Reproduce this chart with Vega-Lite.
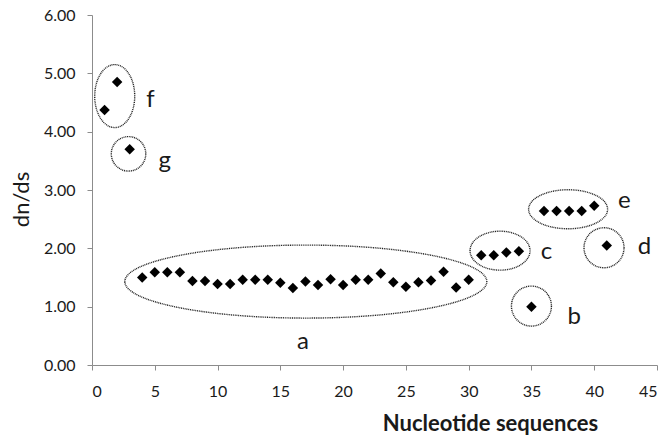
{
  "$schema": "https://vega.github.io/schema/vega-lite/v6.json",
  "autosize": {"type": "none"},
  "width": 565,
  "height": 350,
  "padding": {"left": 92, "top": 15, "right": 8, "bottom": 71},
  "background": "white",
  "config": {
    "view": {"stroke": null},
    "font": "Lato",
    "axis": {
      "grid": false,
      "domainColor": "#8c8c8c",
      "tickColor": "#8c8c8c",
      "tickSize": 5,
      "labelFont": "Lato",
      "labelFontSize": 16,
      "labelColor": "#1a1a1a",
      "titleFont": "Lato",
      "titleColor": "#1a1a1a"
    }
  },
  "datasets": {
    "points": [
      {"seq": 1, "dnds": 4.37}, {"seq": 2, "dnds": 4.85}, {"seq": 3, "dnds": 3.70},
      {"seq": 4, "dnds": 1.50}, {"seq": 5, "dnds": 1.59}, {"seq": 6, "dnds": 1.59},
      {"seq": 7, "dnds": 1.59}, {"seq": 8, "dnds": 1.44}, {"seq": 9, "dnds": 1.44},
      {"seq": 10, "dnds": 1.39}, {"seq": 11, "dnds": 1.39}, {"seq": 12, "dnds": 1.46},
      {"seq": 13, "dnds": 1.46}, {"seq": 14, "dnds": 1.46}, {"seq": 15, "dnds": 1.41},
      {"seq": 16, "dnds": 1.32}, {"seq": 17, "dnds": 1.43}, {"seq": 18, "dnds": 1.37},
      {"seq": 19, "dnds": 1.47}, {"seq": 20, "dnds": 1.37}, {"seq": 21, "dnds": 1.46},
      {"seq": 22, "dnds": 1.46}, {"seq": 23, "dnds": 1.57}, {"seq": 24, "dnds": 1.42},
      {"seq": 25, "dnds": 1.34}, {"seq": 26, "dnds": 1.42}, {"seq": 27, "dnds": 1.45},
      {"seq": 28, "dnds": 1.60}, {"seq": 29, "dnds": 1.33}, {"seq": 30, "dnds": 1.46},
      {"seq": 31, "dnds": 1.88}, {"seq": 32, "dnds": 1.88}, {"seq": 33, "dnds": 1.93},
      {"seq": 34, "dnds": 1.95}, {"seq": 35, "dnds": 1.00}, {"seq": 36, "dnds": 2.64},
      {"seq": 37, "dnds": 2.64}, {"seq": 38, "dnds": 2.64}, {"seq": 39, "dnds": 2.64},
      {"seq": 40, "dnds": 2.73}, {"seq": 41, "dnds": 2.05}
    ],
    "groups": [
      {"group": "a", "cx": 17.03, "cy": 1.43, "lx": 16.8, "ly": 0.40},
      {"group": "b", "cx": 35.0, "cy": 1.01, "lx": 38.4, "ly": 0.83},
      {"group": "c", "cx": 32.5, "cy": 1.96, "lx": 36.2, "ly": 1.93},
      {"group": "d", "cx": 40.78, "cy": 2.01, "lx": 44.0, "ly": 2.02},
      {"group": "e", "cx": 37.92, "cy": 2.67, "lx": 42.4, "ly": 2.81},
      {"group": "f", "cx": 1.81, "cy": 4.61, "lx": 4.65, "ly": 4.55},
      {"group": "g", "cx": 2.91, "cy": 3.62, "lx": 5.8, "ly": 3.49}
    ]
  },
  "layer": [
    {
      "data": {"name": "points"},
      "mark": {"type": "point", "shape": "diamond", "filled": true, "color": "black", "size": 110, "opacity": 1},
      "encoding": {
        "x": {
          "field": "seq", "type": "quantitative",
          "scale": {"domain": [0, 45], "nice": false},
          "axis": {
            "values": [0, 5, 10, 15, 20, 25, 30, 35, 40, 45],
            "labelPadding": 13,
            "title": "Nucleotide sequences",
            "titleFontSize": 22,
            "titleFontWeight": "bold",
            "titleX": 398,
            "titleY": 58,
            "titleAlign": "center",
            "titleBaseline": "middle"
          }
        },
        "y": {
          "field": "dnds", "type": "quantitative",
          "scale": {"domain": [0, 6], "nice": false},
          "axis": {
            "values": [0, 1, 2, 3, 4, 5, 6],
            "format": ".2f",
            "labelPadding": 12,
            "title": "dn/ds",
            "titleFontSize": 22,
            "titleFontWeight": "normal",
            "titleX": -71,
            "titleY": 184,
            "titleAlign": "center",
            "titleBaseline": "middle"
          }
        }
      }
    },
    {
      "data": {"name": "groups"},
      "transform": [{"filter": "datum.group === 'a'"}],
      "mark": {"type": "point", "shape": "M-1,0A1,0.2017,0,1,1,1,0A1,0.2017,0,1,1,-1,0Z", "size": 131044, "filled": false, "stroke": "#222222", "strokeWidth": 1.4, "strokeDash": [1, 0.8], "opacity": 1},
      "encoding": {"x": {"field": "cx", "type": "quantitative"}, "y": {"field": "cy", "type": "quantitative"}}
    },
    {
      "data": {"name": "groups"},
      "transform": [{"filter": "datum.group === 'c'"}],
      "mark": {"type": "point", "shape": "M-1,0A1,0.65,0,1,1,1,0A1,0.65,0,1,1,-1,0Z", "size": 3600, "filled": false, "stroke": "#222222", "strokeWidth": 1.4, "strokeDash": [1, 0.8], "opacity": 1},
      "encoding": {"x": {"field": "cx", "type": "quantitative"}, "y": {"field": "cy", "type": "quantitative"}}
    },
    {
      "data": {"name": "groups"},
      "transform": [{"filter": "datum.group === 'e'"}],
      "mark": {"type": "point", "shape": "M-1,0A1,0.494,0,1,1,1,0A1,0.494,0,1,1,-1,0Z", "size": 6241, "filled": false, "stroke": "#222222", "strokeWidth": 1.4, "strokeDash": [1, 0.8], "opacity": 1},
      "encoding": {"x": {"field": "cx", "type": "quantitative"}, "y": {"field": "cy", "type": "quantitative"}}
    },
    {
      "data": {"name": "groups"},
      "transform": [{"filter": "datum.group === 'f'"}],
      "mark": {"type": "point", "shape": "M0,-1A0.635,1,0,1,1,0,1A0.635,1,0,1,1,0,-1Z", "size": 3969, "filled": false, "stroke": "#222222", "strokeWidth": 1.4, "strokeDash": [1, 0.8], "opacity": 1},
      "encoding": {"x": {"field": "cx", "type": "quantitative"}, "y": {"field": "cy", "type": "quantitative"}}
    },
    {
      "data": {"name": "groups"},
      "transform": [{"filter": "datum.group === 'b' || datum.group === 'd'"}],
      "mark": {"type": "point", "shape": "circle", "size": 1600, "filled": false, "stroke": "#222222", "strokeWidth": 1.4, "strokeDash": [1, 0.8], "opacity": 1},
      "encoding": {"x": {"field": "cx", "type": "quantitative"}, "y": {"field": "cy", "type": "quantitative"}}
    },
    {
      "data": {"name": "groups"},
      "transform": [{"filter": "datum.group === 'g'"}],
      "mark": {"type": "point", "shape": "circle", "size": 1190, "filled": false, "stroke": "#222222", "strokeWidth": 1.4, "strokeDash": [1, 0.8], "opacity": 1},
      "encoding": {"x": {"field": "cx", "type": "quantitative"}, "y": {"field": "cy", "type": "quantitative"}}
    },
    {
      "data": {"name": "groups"},
      "mark": {"type": "text", "font": "Lato", "fontSize": 24, "color": "#1a1a1a", "align": "center", "baseline": "middle"},
      "encoding": {
        "x": {"field": "lx", "type": "quantitative"},
        "y": {"field": "ly", "type": "quantitative"},
        "text": {"field": "group", "type": "nominal"}
      }
    }
  ]
}
